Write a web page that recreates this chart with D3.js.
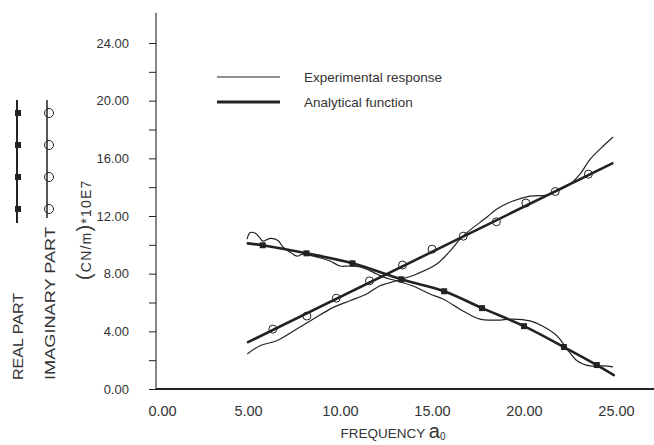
<!DOCTYPE html>
<meta charset="utf-8">
<title>frequency response</title>
<style>
body { margin: 0; background: #fff; }
svg { display: block; font-family: "Liberation Sans", Arial, sans-serif; }
</style>
<svg id="chart"></svg>
<script src="https://cdn.jsdelivr.net/npm/d3@7"></script>
<script>
// values
var xTicks = [0, 5, 10, 15, 20, 25];
var yTicks = [0, 2, 4, 6, 8, 10, 12, 14, 16, 18, 20, 22, 24];

var imagAnalytical = [[5.0, 3.25], [24.8, 15.65]];
var realAnalytical = [[4.99, 10.10], [5.8, 9.97], [8.18, 9.41], [10.68, 8.72], [13.33, 7.61],
  [15.66, 6.78], [17.72, 5.61], [20.0, 4.36], [22.17, 2.91], [23.96, 1.66], [24.88, 0.97]];

var imagExperimental = [[4.96, 2.43], [5.65, 3.0], [6.56, 3.35], [7.65, 4.16], [8.55, 4.85],
  [9.64, 5.66], [10.54, 6.12], [11.45, 6.59], [12.17, 7.16], [13.08, 7.51], [14.17, 7.98],
  [15.26, 8.67], [16.0, 9.6], [16.68, 10.6], [17.99, 11.93], [18.53, 12.48], [19.4, 13.04],
  [20.33, 13.38], [21.25, 13.45], [21.8, 13.73], [22.5, 14.2], [23.04, 14.9], [23.6, 15.95],
  [24.13, 16.64], [24.84, 17.48]];
var realExperimental = [[4.95, 10.40], [5.12, 10.85], [5.4, 10.8], [5.6, 10.55], [5.82, 10.26],
  [6.2, 10.45], [6.63, 10.3], [6.9, 9.85], [7.28, 9.5], [7.66, 9.22], [7.99, 9.36], [8.75, 9.15],
  [9.46, 8.88], [10.0, 8.53], [10.54, 8.53], [11.09, 8.46], [11.79, 8.11], [12.34, 7.77],
  [13.1, 7.49], [13.97, 7.14], [14.89, 6.59], [15.6, 6.24], [16.68, 5.41], [17.6, 4.85],
  [18.53, 4.78], [19.4, 4.85], [20.33, 4.72], [21.0, 4.37], [21.8, 3.68], [22.34, 2.77],
  [22.9, 1.94], [23.6, 1.6], [24.3, 1.6], [24.84, 1.53]];

var realMarkX = [5.8, 8.18, 10.68, 13.33, 15.66, 17.72, 20.0, 22.17, 23.96];
var realMarkY = [9.97, 9.41, 8.72, 7.61, 6.78, 5.61, 4.36, 2.91, 1.66];
var imagMarkX = [6.35, 8.2, 9.8, 11.6, 13.4, 15.0, 16.7, 18.5, 20.1, 21.7, 23.5];
var imagMarkY = [4.15, 5.06, 6.3, 7.5, 8.6, 9.7, 10.6, 11.6, 12.9, 13.7, 14.9];

var legendLabels = ["Experimental response", "Analytical function"];

var width = 654, height = 445;
var ink = "#222";

var svg = d3.select("#chart").attr("width", width).attr("height", height);

var x = d3.scaleLinear().domain([0, 25]).range([156, 616]);
var y = d3.scaleLinear().domain([0, 24]).range([389, 43]);

// axes
var yAxis = d3.axisLeft(y)
  .tickValues(yTicks)
  .tickSize(7)
  .tickPadding(20)
  .tickFormat(function(d) { return d % 4 === 0 ? d.toFixed(2) : ""; });
var yg = svg.append("g").attr("transform", "translate(" + x(0) + ",0)").call(yAxis);
yg.select(".domain").remove();
yg.selectAll("line").attr("stroke", ink);
yg.selectAll("text").attr("fill", "#333").attr("font-size", 13)
  .attr("font-family", "Liberation Sans, Arial, sans-serif");

var xAxis = d3.axisBottom(x)
  .tickValues(xTicks)
  .tickSize(0)
  .tickPadding(17)
  .tickFormat(function(d) { return d.toFixed(2); });
var xg = svg.append("g").attr("transform", "translate(0," + y(0) + ")").call(xAxis);
xg.select(".domain").remove();
xg.selectAll("text").attr("fill", "#333").attr("font-size", 14.5)
  .attr("font-family", "Liberation Sans, Arial, sans-serif")
  .attr("dx", function(d) { return d === 0 ? 6 : 0; });

svg.append("line")
  .attr("x1", x(0)).attr("x2", x(0))
  .attr("y1", y(0)).attr("y2", y(26.1))
  .attr("stroke", ink).attr("stroke-width", 1.1);
svg.append("line")
  .attr("x1", x(0)).attr("x2", width)
  .attr("y1", y(0)).attr("y2", y(0))
  .attr("stroke", ink).attr("stroke-width", 1.8);

// axis titles
var xt = svg.append("text")
  .attr("x", 393).attr("y", 438)
  .attr("text-anchor", "middle")
  .attr("fill", "#333")
  .attr("font-size", 13.5);
xt.append("tspan").text("FREQUENCY ");
xt.append("tspan").attr("font-size", 20).text("a");
xt.append("tspan").attr("font-size", 10).attr("dy", 2).text("0");

var yt = svg.append("text")
  .attr("transform", "translate(91,280) rotate(-90)")
  .attr("fill", "#333")
  .attr("letter-spacing", 1.2)
  .attr("font-size", 14);
yt.append("tspan").attr("font-size", 20).text("(");
yt.append("tspan").text("CN/m");
yt.append("tspan").attr("font-size", 20).text(")");
yt.append("tspan").text("*10E7");

svg.append("text")
  .attr("transform", "translate(55,380) rotate(-90)")
  .attr("fill", "#333").attr("font-size", 14)
  .attr("textLength", 153).attr("lengthAdjust", "spacingAndGlyphs")
  .text("IMAGINARY PART");
svg.append("text")
  .attr("transform", "translate(23,380) rotate(-90)")
  .attr("fill", "#333").attr("font-size", 14)
  .attr("textLength", 87).attr("lengthAdjust", "spacingAndGlyphs")
  .text("REAL PART");

// side key: vertical strokes with the two marker kinds
var keyY = d3.scaleLinear().domain([0, 3]).range([113, 209]);
svg.append("line").attr("x1", 17).attr("x2", 17).attr("y1", 100).attr("y2", 223)
  .attr("stroke", ink).attr("stroke-width", 2);
svg.append("g").selectAll("rect").data([0, 1, 2, 3]).enter().append("rect")
  .attr("x", 15).attr("y", function(d) { return keyY(d) - 3; })
  .attr("width", 6).attr("height", 6).attr("fill", ink);
svg.append("line").attr("x1", 47).attr("x2", 47).attr("y1", 100).attr("y2", 218)
  .attr("stroke", ink).attr("stroke-width", 1.5);
svg.append("g").selectAll("circle").data([0, 1, 2, 3]).enter().append("circle")
  .attr("cx", 49).attr("cy", function(d) { return keyY(d); })
  .attr("r", 4.5).attr("fill", "none").attr("stroke", ink).attr("stroke-width", 1);

// legend
var legend = svg.append("g");
legend.selectAll("line").data(legendLabels).enter().append("line")
  .attr("x1", 217).attr("x2", 280)
  .attr("y1", function(d, i) { return 77 + i * 25; })
  .attr("y2", function(d, i) { return 77 + i * 25; })
  .attr("stroke", ink)
  .attr("stroke-width", function(d, i) { return i === 0 ? 1.1 : 2.8; });
legend.selectAll("text").data(legendLabels).enter().append("text")
  .attr("x", 304)
  .attr("y", function(d, i) { return 82 + i * 25; })
  .attr("fill", "#333").attr("font-size", 13.5)
  .text(function(d) { return d; });

// curves
var smooth = d3.line()
  .x(function(d) { return x(d[0]); })
  .y(function(d) { return y(d[1]); })
  .curve(d3.curveCatmullRom.alpha(0.5));

[imagExperimental, realExperimental].forEach(function(s) {
  svg.append("path").attr("d", smooth(s))
    .attr("fill", "none").attr("stroke", ink).attr("stroke-width", 1.2);
});
[imagAnalytical, realAnalytical].forEach(function(s) {
  svg.append("path").attr("d", smooth(s))
    .attr("fill", "none").attr("stroke", ink).attr("stroke-width", 2.6)
    .attr("stroke-linecap", "round");
});

// markers
svg.append("g").selectAll("rect").data(realMarkX).enter().append("rect")
  .attr("x", function(d) { return x(d) - 3; })
  .attr("y", function(d, i) { return y(realMarkY[i]) - 3; })
  .attr("width", 6).attr("height", 6).attr("fill", ink);
svg.append("g").selectAll("circle").data(imagMarkX).enter().append("circle")
  .attr("cx", function(d) { return x(d); })
  .attr("cy", function(d, i) { return y(imagMarkY[i]); })
  .attr("r", 4).attr("fill", "none").attr("stroke", ink).attr("stroke-width", 1);
</script>
